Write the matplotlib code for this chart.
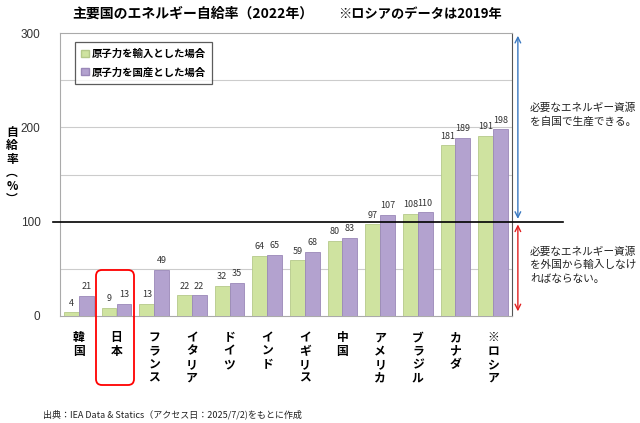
import matplotlib
matplotlib.use("Agg")
import matplotlib.pyplot as plt
from matplotlib.patches import FancyBboxPatch, Patch
import matplotlib.transforms as mtransforms
import numpy as np

plt.rcParams['font.family'] = ['Noto Sans CJK JP', 'DejaVu Sans']

countries = ["韓国", "日本", "フランス", "イタリア", "ドイツ", "インド", "イギリス",
             "中国", "アメリカ", "ブラジル", "カナダ", "※ロシア"]
imported = [4, 9, 13, 22, 32, 64, 59, 80, 97, 108, 181, 191]
domestic = [21, 13, 49, 22, 35, 65, 68, 83, 107, 110, 189, 198]
yticks = [0, 100, 200, 300]

green = "#cfe3a0"
purple = "#b3a2cf"

fig = plt.figure(figsize=(6.4, 4.23), dpi=100)
ax = fig.add_axes([60/640, 1-316/423, 452/640, 283/423])

x = np.arange(len(countries))
w = 0.39
ax.bar(x - w/2, imported, w, color=green, edgecolor="#b5c98a", linewidth=0.6, zorder=3)
ax.bar(x + w/2, domestic, w, color=purple, edgecolor="#9a88b8", linewidth=0.6, zorder=3)

for xi, v in zip(x - w/2, imported):
    ax.text(xi, v + 5, str(v), ha="center", va="bottom", fontsize=6.5, color="#333333")
for xi, v in zip(x + w/2, domestic):
    ax.text(xi, v + 5, str(v), ha="center", va="bottom", fontsize=6.5, color="#333333")

ax.set_xlim(-0.5, len(countries) - 0.5)
ax.set_ylim(0, 300)
ax.set_yticks(yticks)
ax.set_yticklabels([str(t) for t in yticks], fontsize=8.5, color="#333333",
                   family=['Liberation Sans', 'DejaVu Sans'])
ax.tick_params(axis="y", length=0, pad=14)
ax.set_xticks([])
for yv in [50, 150, 200, 250]:
    ax.axhline(yv, color="#cccccc", linewidth=0.8, zorder=1)
for s in ["left", "top", "bottom"]:
    ax.spines[s].set_color("#aaaaaa")
ax.spines["right"].set_color("#555555")

# 100% line extending beyond axes
ax.axhline(100, xmin=-0.015, xmax=1.113, color="black", linewidth=1.2, clip_on=False, zorder=4)

# category labels (vertical)
for xi, name in zip(x, countries):
    ax.text(xi, -16, "\n".join(name), ha="center", va="top", fontsize=8.5,
            fontweight="bold", linespacing=1.05, clip_on=False)

# red rounded box around Japan (pixel coordinates)
box = FancyBboxPatch((96, 423 - 385), 38, 115,
                     boxstyle="round,pad=0,rounding_size=6",
                     transform=mtransforms.IdentityTransform(), fill=False,
                     edgecolor="red", linewidth=1.3, clip_on=False)
fig.patches.append(box)

# arrows
bt = mtransforms.blended_transform_factory(ax.transAxes, ax.transData)
ax.annotate("", xy=(1.013, 300), xytext=(1.013, 100), xycoords=bt, textcoords=bt,
            arrowprops=dict(arrowstyle="<->", color="#3a78c0", lw=1.0), annotation_clip=False)
ax.annotate("", xy=(1.013, 100), xytext=(1.013, 2), xycoords=bt, textcoords=bt,
            arrowprops=dict(arrowstyle="<->", color="#e02020", lw=1.0), annotation_clip=False)

fig.text(530/640, 1-102/423, "必要なエネルギー資源\nを自国で生産できる。", fontsize=7.7,
         ha="left", va="top", linespacing=1.45, color="#222222")
fig.text(530/640, 1-246/423, "必要なエネルギー資源\nを外国から輸入しなけ\nればならない。", fontsize=7.7,
         ha="left", va="top", linespacing=1.45, color="#222222")

# titles
fig.text(72/640, 1-14/423, "主要国のエネルギー自給率（2022年）", fontsize=10,
         fontweight="bold", ha="left", va="center")
fig.text(338/640, 1-14/423, "※ロシアのデータは2019年", fontsize=9.5,
         fontweight="bold", ha="left", va="center")

# y label
fig.text(12/640, 1-166/423, "自\n給\n率\n︵\n%\n︶", fontsize=8.5, fontweight="bold",
         ha="center", va="center", linespacing=1.05)

# source
fig.text(43/640, 1-414/423, "出典：IEA Data & Statics（アクセス日：2025/7/2)をもとに作成",
         fontsize=6.5, ha="left", va="center", color="#222222")

# legend
handles = [Patch(facecolor=green, edgecolor="#b5c98a"), Patch(facecolor=purple, edgecolor="#9a88b8")]
leg = ax.legend(handles, ["原子力を輸入とした場合", "原子力を国産とした場合"],
                loc="upper left", bbox_to_anchor=(0.022, 0.985),
                handlelength=0.7, handleheight=0.7, handletextpad=0.3,
                frameon=True, fancybox=False, edgecolor="#333333",
                borderpad=0.6, labelspacing=0.8, prop={'weight': 'bold', 'size': 7.5})
leg.get_frame().set_linewidth(0.9)

fig.savefig("out.png", dpi=100)
